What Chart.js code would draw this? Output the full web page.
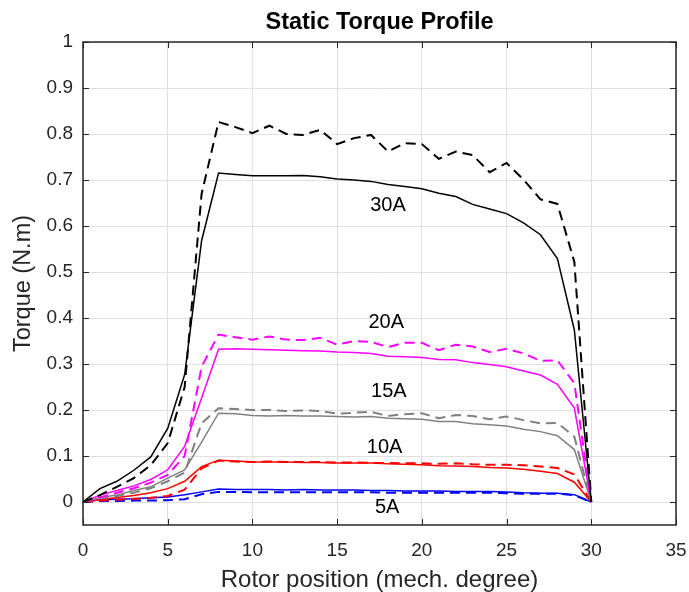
<!DOCTYPE html>
<html>
<head>
<meta charset="utf-8">
<script src="https://cdn.jsdelivr.net/npm/chart.js@4"></script>
<style>
html, body { margin: 0; padding: 0; background: #fff; }
</style>
</head>
<body>
<canvas id="torqueChart" width="689" height="592"></canvas>
<script>
// rotor position (mech. degree)
const positions = [0, 1, 2, 3, 4, 5, 6, 7, 8, 9, 10, 11, 12, 13, 14, 15, 16, 17, 18, 19, 20, 21, 22, 23, 24, 25, 26, 27, 28, 29, 30];

// torque values (N.m), solid and dashed curve for each current
const t30Solid  = [0, 0.029, 0.045, 0.069, 0.098, 0.160, 0.277, 0.568, 0.715, 0.712, 0.709, 0.709, 0.709, 0.710, 0.707, 0.702, 0.700, 0.697, 0.690, 0.686, 0.681, 0.671, 0.664, 0.647, 0.637, 0.627, 0.607, 0.581, 0.529, 0.374, 0];
const t30Dashed = [0, 0.015, 0.033, 0.052, 0.080, 0.128, 0.250, 0.670, 0.826, 0.815, 0.802, 0.818, 0.800, 0.798, 0.809, 0.778, 0.791, 0.798, 0.762, 0.780, 0.778, 0.746, 0.762, 0.754, 0.717, 0.737, 0.701, 0.658, 0.648, 0.522, 0];
const t20Solid  = [0, 0.015, 0.025, 0.035, 0.049, 0.070, 0.121, 0.226, 0.332, 0.333, 0.332, 0.331, 0.330, 0.329, 0.328, 0.326, 0.325, 0.323, 0.317, 0.316, 0.314, 0.310, 0.309, 0.303, 0.299, 0.294, 0.285, 0.276, 0.256, 0.204, 0];
const t20Dashed = [0, 0.010, 0.020, 0.030, 0.042, 0.059, 0.100, 0.294, 0.364, 0.358, 0.353, 0.360, 0.353, 0.352, 0.357, 0.342, 0.350, 0.348, 0.337, 0.346, 0.346, 0.330, 0.342, 0.338, 0.326, 0.333, 0.323, 0.307, 0.308, 0.258, 0];
const t15Solid  = [0, 0.010, 0.015, 0.025, 0.033, 0.052, 0.070, 0.130, 0.193, 0.192, 0.188, 0.187, 0.188, 0.187, 0.187, 0.186, 0.185, 0.186, 0.182, 0.181, 0.180, 0.175, 0.175, 0.170, 0.168, 0.165, 0.158, 0.153, 0.144, 0.114, 0];
const t15Dashed = [0, 0.008, 0.013, 0.020, 0.030, 0.045, 0.064, 0.171, 0.204, 0.202, 0.200, 0.200, 0.198, 0.199, 0.198, 0.192, 0.194, 0.196, 0.187, 0.191, 0.193, 0.182, 0.189, 0.187, 0.180, 0.186, 0.178, 0.171, 0.172, 0.142, 0];
const t10Solid  = [0, 0.005, 0.010, 0.014, 0.020, 0.029, 0.045, 0.077, 0.091, 0.089, 0.087, 0.087, 0.087, 0.086, 0.086, 0.085, 0.085, 0.085, 0.083, 0.082, 0.081, 0.079, 0.078, 0.077, 0.075, 0.074, 0.071, 0.067, 0.062, 0.043, 0];
const t10Dashed = [0, 0.003, 0.005, 0.007, 0.009, 0.013, 0.027, 0.073, 0.090, 0.088, 0.087, 0.088, 0.087, 0.087, 0.087, 0.086, 0.086, 0.085, 0.085, 0.084, 0.084, 0.083, 0.084, 0.082, 0.081, 0.081, 0.080, 0.077, 0.074, 0.060, 0];
const t5Solid   = [0, 0.005, 0.006, 0.007, 0.009, 0.011, 0.016, 0.022, 0.028, 0.027, 0.027, 0.027, 0.026, 0.027, 0.026, 0.026, 0.026, 0.025, 0.025, 0.024, 0.024, 0.024, 0.023, 0.023, 0.023, 0.022, 0.020, 0.019, 0.019, 0.016, 0];
const t5Dashed  = [0, 0.002, 0.002, 0.003, 0.003, 0.004, 0.006, 0.017, 0.022, 0.022, 0.021, 0.021, 0.021, 0.021, 0.021, 0.021, 0.021, 0.021, 0.020, 0.020, 0.020, 0.020, 0.020, 0.020, 0.020, 0.019, 0.018, 0.018, 0.018, 0.015, 0];

// axis ticks
const xTicks = [0, 5, 10, 15, 20, 25, 30, 35];
const yTicks = [0, 0.1, 0.2, 0.3, 0.4, 0.5, 0.6, 0.7, 0.8, 0.9, 1];

// curve labels and where they sit (data coords)
const curveLabels = ['30A', '20A', '15A', '10A', '5A'];
const labelX = [18.0, 17.9, 18.05, 17.8, 17.95];
const labelY = [0.645, 0.391, 0.240, 0.119, -0.0125];

const FONT = '"Liberation Sans", Arial, sans-serif';

function toPoints(vals) {
    return positions.map((p, i) => ({ x: p, y: vals[i] }));
}

function series(vals, color, dashed) {
    return {
        data: toPoints(vals),
        borderColor: color,
        borderWidth: dashed ? 2 : 1.5,
        borderDash: dashed ? [10, 6] : [],
        pointRadius: 0,
        tension: 0,
        fill: false
    };
}

// box, inward tick marks and curve labels, MATLAB style
const axesBox = {
    id: 'axesBox',
    afterDraw(chart) {
        const ctx = chart.ctx;
        const a = chart.chartArea;
        const xs = chart.scales.x;
        const ys = chart.scales.y;
        ctx.save();
        ctx.strokeStyle = '#262626';
        ctx.lineWidth = 1.5;
        ctx.strokeRect(a.left, a.top, a.right - a.left, a.bottom - a.top);
        ctx.lineWidth = 1;
        ctx.beginPath();
        xTicks.forEach(v => {
            const px = Math.round(xs.getPixelForValue(v)) + 0.5;
            ctx.moveTo(px, a.bottom); ctx.lineTo(px, a.bottom - 6);
            ctx.moveTo(px, a.top); ctx.lineTo(px, a.top + 6);
        });
        yTicks.forEach(v => {
            const py = Math.round(ys.getPixelForValue(v)) + 0.5;
            ctx.moveTo(a.left, py); ctx.lineTo(a.left + 6, py);
            ctx.moveTo(a.right, py); ctx.lineTo(a.right - 6, py);
        });
        ctx.stroke();

        ctx.fillStyle = '#000';
        ctx.font = '20px ' + FONT;
        ctx.textAlign = 'center';
        ctx.textBaseline = 'middle';
        curveLabels.forEach((t, i) => {
            ctx.fillText(t, xs.getPixelForValue(labelX[i]), ys.getPixelForValue(labelY[i]));
        });
        ctx.restore();
    }
};

const ctx = document.getElementById('torqueChart').getContext('2d');
new Chart(ctx, {
    type: 'line',
    data: {
        datasets: [
            series(t30Solid, '#000000', false),
            series(t30Dashed, '#000000', true),
            series(t20Solid, '#ff00ff', false),
            series(t20Dashed, '#ff00ff', true),
            series(t15Solid, '#808080', false),
            series(t15Dashed, '#808080', true),
            series(t10Solid, '#ff0000', false),
            series(t10Dashed, '#ff0000', true),
            series(t5Solid, '#0000ff', false),
            series(t5Dashed, '#0000ff', true)
        ]
    },
    options: {
        responsive: false,
        animation: false,
        layout: { padding: { left: 0, right: 13, top: 0, bottom: 0 } },
        plugins: {
            legend: { display: false },
            tooltip: { enabled: false },
            title: {
                display: true,
                fullSize: false,
                text: 'Static Torque Profile',
                color: '#000',
                font: { family: FONT, size: 23.5, weight: 'bold' },
                padding: { top: 8, bottom: 5.8 }
            }
        },
        scales: {
            x: {
                type: 'linear',
                min: 0,
                max: 35,
                afterBuildTicks: s => { s.ticks = xTicks.map(v => ({ value: v })); },
                afterFit: s => { s.height = 67; s.paddingLeft = 0; s.paddingRight = 0; },
                grid: { color: '#e0e0e0', lineWidth: 1, drawTicks: false },
                border: { display: false },
                ticks: {
                    color: '#262626',
                    padding: 14,
                    maxRotation: 0,
                    font: { family: FONT, size: 19 },
                    callback: v => String(v)
                },
                title: {
                    display: true,
                    text: 'Rotor position (mech. degree)',
                    color: '#262626',
                    font: { family: FONT, size: 24, lineHeight: 1 },
                    padding: { top: 0, bottom: 0 }
                }
            },
            y: {
                min: -0.05,
                max: 1,
                afterBuildTicks: s => { s.ticks = yTicks.map(v => ({ value: v })); },
                afterFit: s => { s.width = 83; s.paddingTop = 0; s.paddingBottom = 0; },
                grid: { color: '#e0e0e0', lineWidth: 1, drawTicks: false },
                border: { display: false },
                ticks: {
                    color: '#262626',
                    padding: 10,
                    font: { family: FONT, size: 19 },
                    callback: v => String(Math.round(v * 10) / 10)
                },
                title: {
                    display: true,
                    text: 'Torque (N.m)',
                    color: '#262626',
                    font: { family: FONT, size: 23.5, lineHeight: 1 },
                    padding: { top: 12, bottom: 0 }
                }
            }
        }
    },
    plugins: [axesBox]
});
</script>
</body>
</html>
